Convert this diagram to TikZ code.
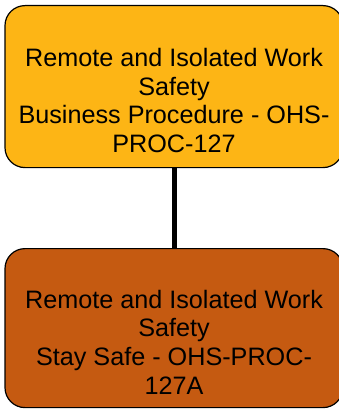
\documentclass[tikz,border=0pt]{standalone}
\usepackage{fontspec}
\setmainfont{Liberation Sans}
\definecolor{topfill}{RGB}{253,181,21}
\definecolor{botfill}{RGB}{197,90,17}
\begin{document}
\begin{tikzpicture}[x=1pt,y=-1pt,
  box/.style={draw=black,line width=1.2pt,rounded corners=20pt,minimum width=338pt,inner sep=0pt,anchor=north},
  boxtext/.style={align=center,inner sep=0pt,font=\fontsize{25.2}{28.7}\selectfont},
  link/.style={draw=black,line width=5pt}]
\useasboundingbox (0,0) rectangle (338,409);
\node[box,fill=topfill,minimum height=162pt] (top) at (174,5) {};
\node[box,fill=botfill,minimum height=159pt] (bot) at (174,248) {};
\node[boxtext] (toptext) at (174,100.6) {Remote and Isolated Work\\Safety\\Business Procedure - OHS-\\PROC-127};
\node[boxtext] (bottext) at (174,342.2) {Remote and Isolated Work\\Safety\\Stay Safe - OHS-PROC-\\127A};
\draw[link] (top.south) -- (bot.north);
\end{tikzpicture}
\end{document}
